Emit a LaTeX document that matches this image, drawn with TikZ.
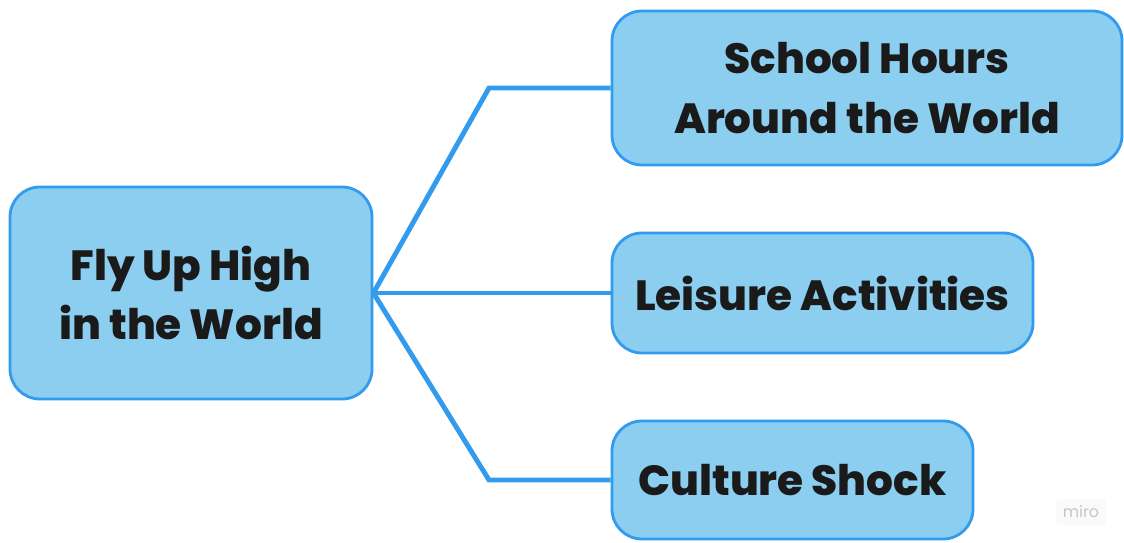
\documentclass[tikz,border=0pt]{standalone}
\usepackage{fontspec}
\setmainfont{Poppins}[BoldFont={Poppins ExtraBold}]
\usetikzlibrary{positioning}

\definecolor{mapline}{RGB}{51,155,238}
\definecolor{mapfill}{RGB}{139,206,240}
\definecolor{maptext}{RGB}{26,26,26}

\tikzset{
  topic/.style={draw=mapline, line width=1.6pt, fill=mapfill, rounded corners=17pt,
    text=maptext, font=\fontsize{24}{34}\selectfont\bfseries, align=center, inner sep=0pt},
  branch/.style={draw=mapline, line width=2.8pt, line join=miter}
}

\begin{document}
\begin{tikzpicture}[x=0.02cm,y=-0.02cm]
\useasboundingbox (0,0) rectangle (1124,543);

% central topic and its three branches
\node[topic, minimum width=362*0.02cm, minimum height=212*0.02cm] (fly) at (191,293) {Fly Up High\\in the World};

\node[topic, minimum width=510*0.02cm, minimum height=154*0.02cm] (hours) at (867,88) {School Hours\\Around the World};
\node[topic, minimum width=421*0.02cm, minimum height=120*0.02cm] (leisure) at (822.5,293) {Leisure Activities};
\node[topic, minimum width=361*0.02cm, minimum height=118*0.02cm] (shock) at (792.5,480) {Culture Shock};

\coordinate (bendtop) at (489,88);
\coordinate (bendbot) at (489,480);

\draw[branch] (fly.east) -- (bendtop) -- (hours.west);
\draw[branch] (fly.east) -- (leisure.west);
\draw[branch] (fly.east) -- (bendbot) -- (shock.west);

% watermark
\node[fill=gray!4, rounded corners=2pt, text=gray!45, font=\fontsize{9}{9}\selectfont,
  minimum width=50*0.02cm, minimum height=26*0.02cm] (miro) at (1081,512) {miro};
\end{tikzpicture}
\end{document}
